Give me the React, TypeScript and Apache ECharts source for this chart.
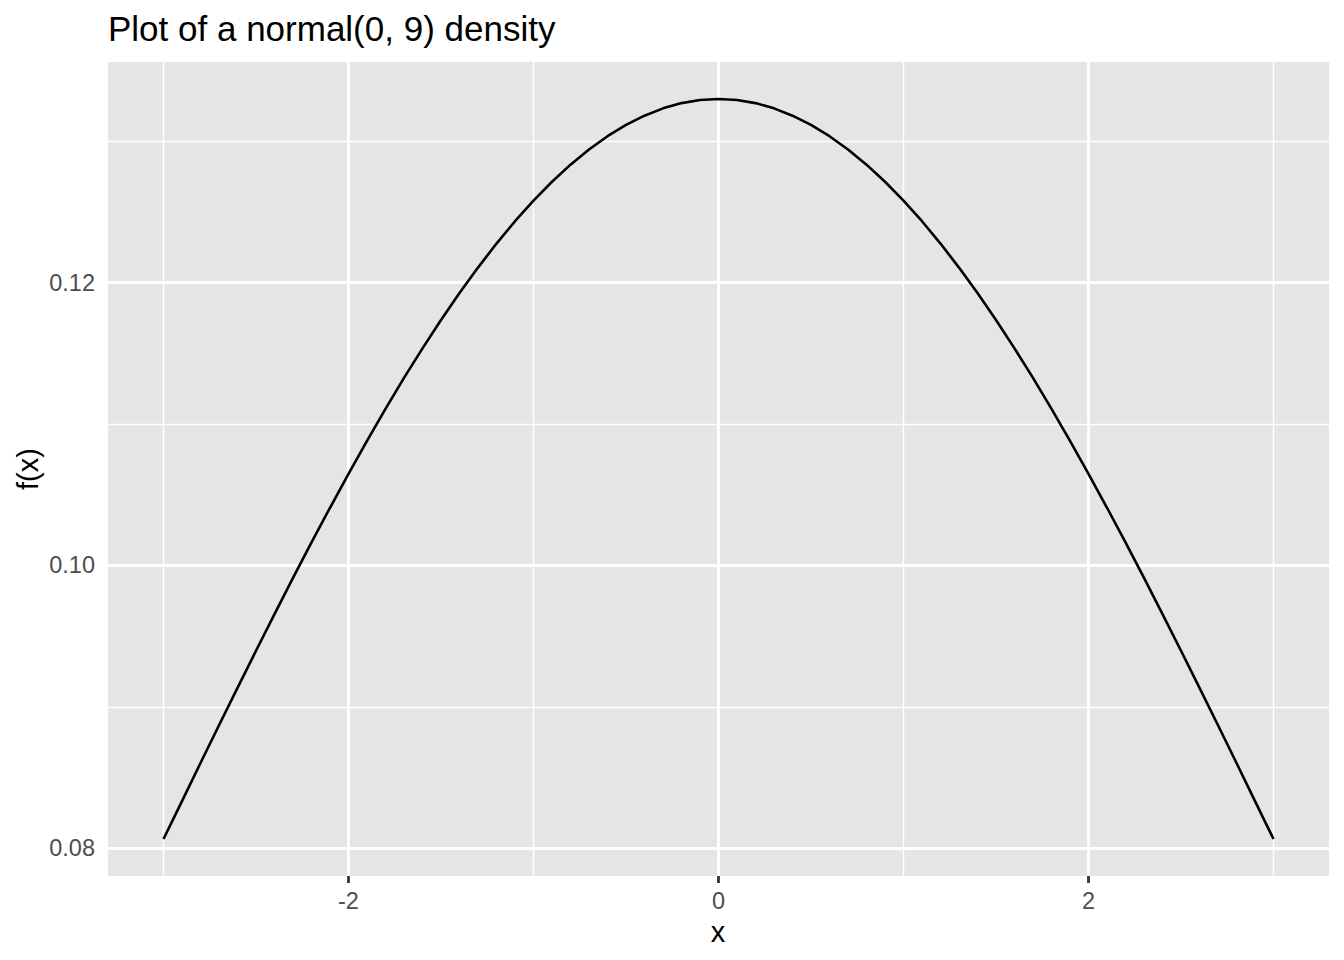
import React, { useEffect, useRef } from "react";
import * as echarts from "echarts";

// x values of the plotted curve
const xValues = [
  -3, -2.9, -2.8, -2.7, -2.6, -2.5, -2.4, -2.3, -2.2, -2.1, -2, -1.9, -1.8,
  -1.7, -1.6, -1.5, -1.4, -1.3, -1.2, -1.1, -1, -0.9, -0.8, -0.7, -0.6, -0.5,
  -0.4, -0.3, -0.2, -0.1, 0, 0.1, 0.2, 0.3, 0.4, 0.5, 0.6, 0.7, 0.8, 0.9, 1,
  1.1, 1.2, 1.3, 1.4, 1.5, 1.6, 1.7, 1.8, 1.9, 2, 2.1, 2.2, 2.3, 2.4, 2.5, 2.6,
  2.7, 2.8, 2.9, 3,
];
// f(x)
const fValues = [
  0.08066, 0.08334, 0.08603, 0.0887, 0.09134, 0.09397, 0.09656, 0.09912,
  0.10163, 0.10408, 0.10648, 0.10881, 0.11107, 0.11326, 0.11535, 0.11736,
  0.11926, 0.12106, 0.12276, 0.12434, 0.12579, 0.12713, 0.12834, 0.12941,
  0.13035, 0.13115, 0.1318, 0.13232, 0.13269, 0.13291, 0.13298, 0.13291,
  0.13269, 0.13232, 0.1318, 0.13115, 0.13035, 0.12941, 0.12834, 0.12713,
  0.12579, 0.12434, 0.12276, 0.12106, 0.11926, 0.11736, 0.11535, 0.11326,
  0.11107, 0.10881, 0.10648, 0.10408, 0.10163, 0.09912, 0.09656, 0.09397,
  0.09134, 0.0887, 0.08603, 0.08334, 0.08066,
];
const xMajor = [-2, 0, 2];
const xMinor = [-3, -1, 1, 3];
const yMajor = [0.08, 0.1, 0.12];
const yMinor = [0.09, 0.11, 0.13];
const yTickLabels = ["0.08", "0.10", "0.12"];

const FONT = "'Liberation Sans', Arial, Helvetica, sans-serif";

export default function App() {
  const ref = useRef<HTMLDivElement>(null);
  useEffect(() => {
    if (!ref.current) return;
    const chart = echarts.init(ref.current, null, { renderer: "svg" });
    const gridLines: any[] = [];
    xMinor.forEach((v) =>
      gridLines.push({ xAxis: v, lineStyle: { color: "#FFFFFF", width: 1.4, type: "solid" } })
    );
    yMinor.forEach((v) =>
      gridLines.push({ yAxis: v, lineStyle: { color: "#FFFFFF", width: 1.4, type: "solid" } })
    );
    xMajor.forEach((v) =>
      gridLines.push({ xAxis: v, lineStyle: { color: "#FFFFFF", width: 2.8, type: "solid" } })
    );
    yMajor.forEach((v) =>
      gridLines.push({ yAxis: v, lineStyle: { color: "#FFFFFF", width: 2.8, type: "solid" } })
    );
    chart.setOption({
      animation: false,
      textStyle: { fontFamily: FONT },
      grid: {
        left: 108,
        right: 15,
        top: 62,
        bottom: 84,
        show: true,
        backgroundColor: "#E5E5E5",
        borderWidth: 0,
        containLabel: false,
      },
      xAxis: {
        type: "value",
        min: -3.3,
        max: 3.3,
        axisLine: { show: false },
        splitLine: { show: false },
        axisTick: {
          show: true,
          customValues: xMajor,
          length: 7,
          lineStyle: { color: "#333333", width: 2.8 },
        },
        axisLabel: {
          customValues: xMajor,
          formatter: (v: number) => String(v),
          color: "#4D4D4D",
          fontSize: 23.5,
          fontFamily: FONT,
          margin: 13,
        },
      },
      yAxis: {
        type: "value",
        min: 0.078044,
        max: 0.135597,
        axisLine: { show: false },
        splitLine: { show: false },
        axisTick: {
          show: true,
          customValues: yMajor,
          length: 7,
          lineStyle: { color: "#333333", width: 2.8 },
        },
        axisLabel: {
          customValues: yMajor,
          formatter: (v: number) => {
            const i = yMajor.findIndex((m) => Math.abs(m - v) < 1e-9);
            return i >= 0 ? yTickLabels[i] : "";
          },
          color: "#4D4D4D",
          fontSize: 23.5,
          fontFamily: FONT,
          margin: 13,
        },
      },
      graphic: [
        {
          type: "text",
          left: 108,
          top: 11,
          style: {
            text: "Plot of a normal(0, 9) density",
            fontSize: 35,
            fontFamily: FONT,
            fill: "#000000",
          },
        },
        {
          type: "text",
          x: 718,
          y: 932,
          style: {
            text: "x",
            fontSize: 29,
            fontFamily: FONT,
            fill: "#000000",
            align: "center",
            verticalAlign: "middle",
          },
        },
        {
          type: "text",
          x: 28,
          y: 469,
          rotation: Math.PI / 2,
          style: {
            text: "f(x)",
            fontSize: 29,
            fontFamily: FONT,
            fill: "#000000",
            align: "center",
            verticalAlign: "middle",
          },
        },
      ],
      series: [
        {
          type: "line",
          data: [],
          z: 1,
          silent: true,
          markLine: {
            silent: true,
            symbol: ["none", "none"],
            label: { show: false },
            emphasis: { disabled: true },
            data: gridLines,
          },
        },
        {
          type: "line",
          z: 5,
          data: xValues.map((x, i) => [x, fValues[i]]),
          smooth: false,
          showSymbol: false,
          symbol: "none",
          lineStyle: { color: "#000000", width: 2.6 },
        },
      ],
    });
    return () => chart.dispose();
  }, []);
  return <div ref={ref} style={{ width: 1344, height: 960, margin: -8 }} />;
}
